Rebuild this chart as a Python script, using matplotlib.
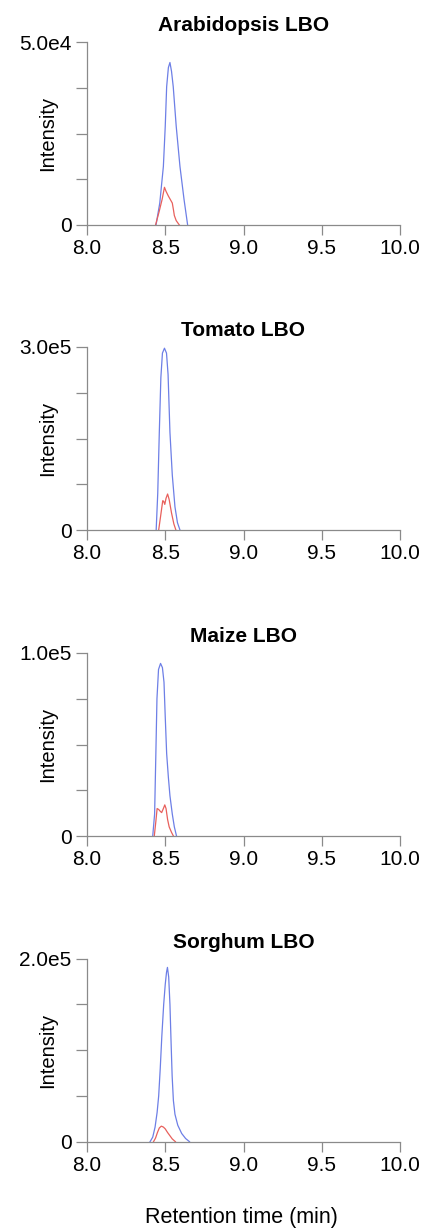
import matplotlib
matplotlib.use("Agg")
import matplotlib.pyplot as plt

plt.rcParams['font.family'] = ['Liberation Sans', 'DejaVu Sans']

titles = ["Arabidopsis LBO", "Tomato LBO", "Maize LBO", "Sorghum LBO"]
ymax = [5.0e4, 3.0e5, 1.0e5, 2.0e5]
ymax_labels = ["5.0e4", "3.0e5", "1.0e5", "2.0e5"]

# blue trace (retention time, intensity)
blue_t = [
    [8.441, 8.465, 8.488, 8.500, 8.509, 8.520, 8.530, 8.540, 8.551, 8.570, 8.594, 8.620, 8.643],
    [8.442, 8.452, 8.462, 8.472, 8.482, 8.495, 8.508, 8.518, 8.530, 8.545, 8.562, 8.578, 8.594],
    [8.420, 8.432, 8.440, 8.447, 8.457, 8.470, 8.482, 8.492, 8.500, 8.509, 8.520, 8.530, 8.545, 8.558, 8.572],
    [8.403, 8.420, 8.435, 8.448, 8.458, 8.468, 8.478, 8.490, 8.500, 8.508, 8.514, 8.522, 8.530,
     8.537, 8.544, 8.552, 8.562, 8.580, 8.605, 8.630, 8.655],
]
blue_i = [
    [0, 6000, 16000, 27000, 37800, 43000, 44400, 42000, 37800, 27000, 16000, 7000, 0],
    [0, 60000, 160000, 250000, 290000, 298000, 290000, 255000, 160000, 90000, 38000, 12000, 0],
    [0, 12000, 45000, 75000, 91000, 94300, 92000, 84000, 65000, 45000, 32000, 22000, 12000, 5000, 0],
    [0, 5000, 16000, 32000, 50000, 80000, 115000, 150000, 172000, 185000, 190500, 180000, 150000,
     110000, 72000, 45000, 30000, 18000, 9000, 3500, 0],
]

# red trace
red_t = [
    [8.438, 8.460, 8.480, 8.495, 8.505, 8.520, 8.545, 8.553, 8.558, 8.570, 8.590],
    [8.458, 8.470, 8.484, 8.490, 8.497, 8.505, 8.515, 8.525, 8.540, 8.555, 8.568],
    [8.430, 8.440, 8.448, 8.458, 8.468, 8.477, 8.488, 8.497, 8.505, 8.515, 8.525, 8.540, 8.552],
    [8.425, 8.438, 8.450, 8.462, 8.475, 8.488, 8.500, 8.515, 8.530, 8.545, 8.565],
]
red_i = [
    [0, 3500, 7000, 10300, 9200, 7900, 6000, 4000, 2600, 1200, 0],
    [0, 22000, 48000, 47000, 42000, 52000, 59000, 50000, 28000, 10000, 0],
    [0, 8000, 15000, 14500, 13500, 12800, 15000, 17000, 15000, 9000, 5000, 2000, 0],
    [0, 4000, 10000, 15000, 17000, 16000, 14000, 10000, 6500, 3000, 0],
]

xticks = [8.0, 8.5, 9.0, 9.5, 10.0]

fig = plt.figure(figsize=(4.27, 12.28), dpi=100)
W, H = 427.0, 1228.0
bottoms_px = [225, 530, 836, 1141.7]
gray = '#8a8a8a'

for k in range(4):
    ax = fig.add_axes([87 / W, 1 - bottoms_px[k] / H, 313 / W, 183 / H])
    ax.plot(blue_t[k], blue_i[k], color='#6d7fe6', lw=0.9)
    ax.plot(red_t[k], red_i[k], color='#e8605c', lw=0.9)
    ax.set_xlim(8.0, 10.0)
    ax.set_ylim(0, ymax[k])
    for s in ['top', 'right']:
        ax.spines[s].set_visible(False)
    for s in ['left', 'bottom']:
        ax.spines[s].set_color(gray)
        ax.spines[s].set_linewidth(0.9)
    ax.set_xticks(xticks)
    ax.set_xticklabels(["%.1f" % v for v in xticks])
    ax.set_yticks([0, ymax[k]])
    ax.set_yticklabels(["0", ymax_labels[k]])
    ax.set_yticks([ymax[k] * f for f in (0.25, 0.5, 0.75)], minor=True)
    ax.tick_params(axis='x', direction='out', length=7, width=0.9, color=gray,
                   labelsize=15, pad=3)
    ax.tick_params(axis='y', which='both', direction='out', length=8, width=0.9,
                   color=gray, labelsize=15, pad=3)
    ax.set_title(titles[k], fontsize=15, fontweight='bold', pad=8)
    ax.set_ylabel("Intensity", fontsize=14.5)
    ax.yaxis.set_label_coords(-0.095, 0.5)
    ax.patch.set_alpha(0)

fig.text(241 / W, 1 - 1217 / H, "Retention time (min)", ha='center', va='center',
         fontsize=15.5)

fig.savefig("out.png", dpi=100)
